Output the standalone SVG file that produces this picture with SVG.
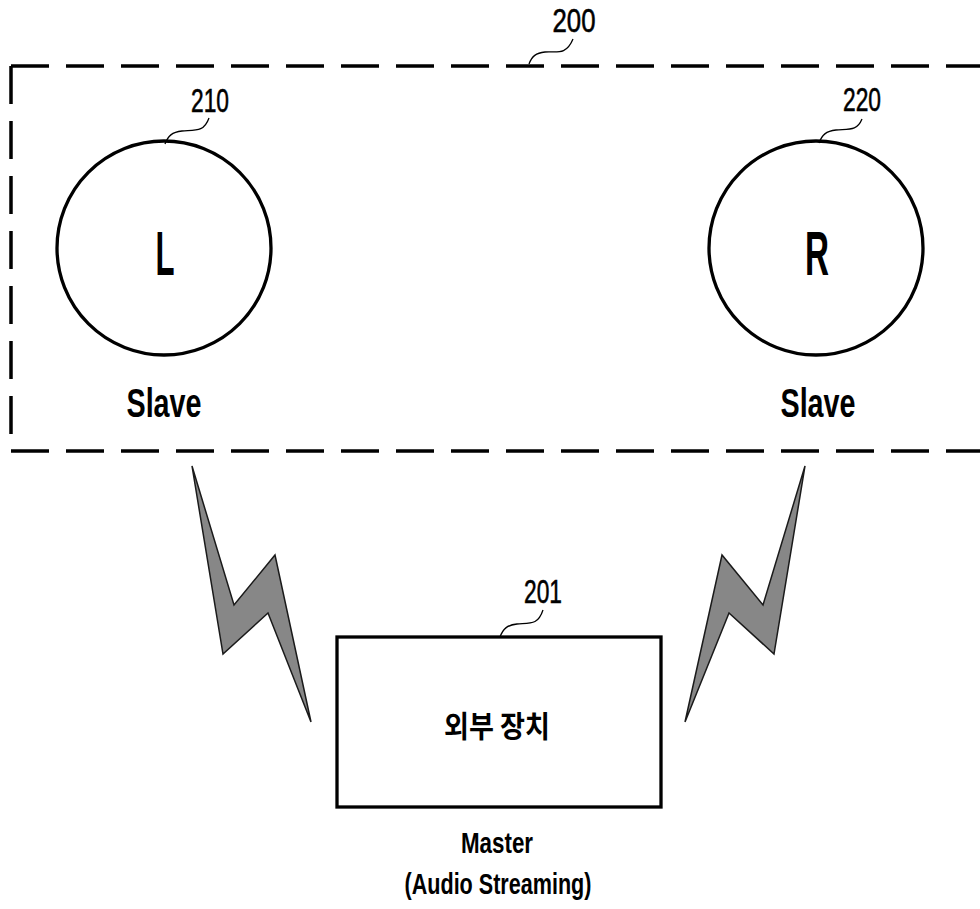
<svg xmlns="http://www.w3.org/2000/svg" width="980" height="909" viewBox="0 0 980 909">
<style>
.bg{fill:#fff}
.dash{fill:none;stroke:#000;stroke-width:3.5;stroke-dasharray:38 17}
.shape{fill:none;stroke:#000;stroke-width:3.3}
.lead{fill:none;stroke:#000;stroke-width:1.3}
.bolt{fill:#878787;stroke:#1a1a1a;stroke-width:1.5;stroke-linejoin:miter}
text{font-family:"Liberation Sans","Noto Sans CJK KR",sans-serif;fill:#000;text-anchor:middle}
.big{font-size:63px;font-weight:bold}
.lab{font-size:40px;font-weight:bold}
.num{font-size:34px;stroke:#000;stroke-width:0.6}
.ko{font-family:"Noto Sans CJK KR",sans-serif;font-size:30px;font-weight:bold}
.cap{font-size:29px;font-weight:bold}
</style>
<rect class="bg" x="0" y="0" width="980" height="909"/>
<g id="group200">
  <path class="dash" d="M11,66 H990"/>
  <path class="dash" d="M11,66 V451"/>
  <path class="dash" d="M11,451 H990"/>
  <path class="lead" d="M529,64 C532,56 536,53 545,52 C556,51 566,56 573,39"/>
  <text class="num" x="574" y="32" textLength="43" lengthAdjust="spacingAndGlyphs">200</text>
</g>
<g id="node210">
  <circle class="shape" cx="164" cy="248" r="107"/>
  <text class="big" x="165" y="275" textLength="19" lengthAdjust="spacingAndGlyphs">L</text>
  <text class="lab" x="164" y="417" textLength="75" lengthAdjust="spacingAndGlyphs">Slave</text>
  <path class="lead" d="M165,144 C168,136 172,132 182,131 C196,130 204,132 209,118"/>
  <text class="num" x="210" y="112" textLength="38" lengthAdjust="spacingAndGlyphs">210</text>
</g>
<g id="node220">
  <circle class="shape" cx="816" cy="248" r="107"/>
  <text class="big" x="817" y="275" textLength="24" lengthAdjust="spacingAndGlyphs">R</text>
  <text class="lab" x="818" y="417" textLength="75" lengthAdjust="spacingAndGlyphs">Slave</text>
  <path class="lead" d="M819,143 C822,135 826,131 836,130 C850,129 857,131 862,119"/>
  <text class="num" x="862" y="111" textLength="38" lengthAdjust="spacingAndGlyphs">220</text>
</g>
<g id="node201">
  <rect class="shape" x="337" y="637" width="324" height="170"/>
  <text class="ko" x="497" y="737" textLength="106" lengthAdjust="spacingAndGlyphs">외부 장치</text>
  <text class="cap" x="497" y="853" textLength="72" lengthAdjust="spacingAndGlyphs">Master</text>
  <text class="cap" x="498" y="894" font-size="30" textLength="187" lengthAdjust="spacingAndGlyphs">(Audio Streaming)</text>
  <path class="lead" d="M500,637 C503,629 507,625 517,624 C531,623 538,625 543,610"/>
  <text class="num" x="543" y="603" textLength="38" lengthAdjust="spacingAndGlyphs">201</text>
</g>
<g id="connectors">
  <path class="bolt" d="M192,466 L234,605 L275,555 L311,722 L268,613 L223,654 Z"/>
  <path class="bolt" d="M805,466 L763,605 L722,555 L685,722 L729,613 L774,654 Z"/>
</g>
</svg>
